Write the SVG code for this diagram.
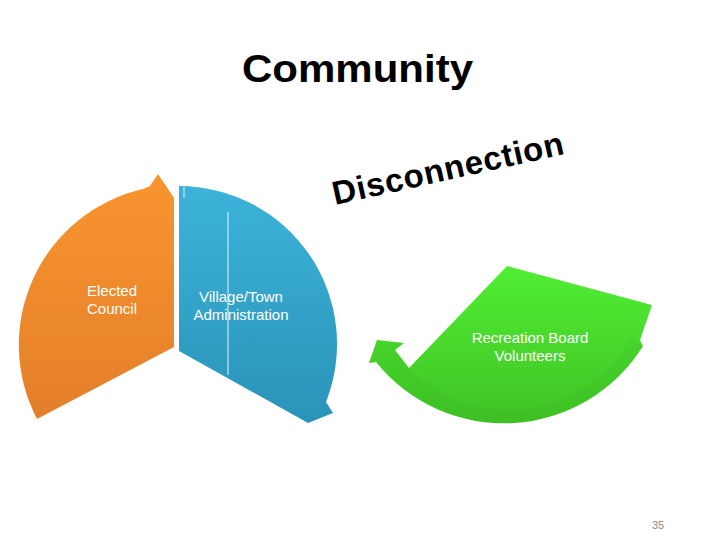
<svg xmlns="http://www.w3.org/2000/svg" width="720" height="540" viewBox="0 0 720 540">
<defs>
<linearGradient id="gOrange" x1="0" y1="174" x2="0" y2="420" gradientUnits="userSpaceOnUse">
<stop offset="0" stop-color="#F8952F"/>
<stop offset="1" stop-color="#E47F2A"/>
</linearGradient>
<linearGradient id="gBlue" x1="0" y1="186" x2="0" y2="423" gradientUnits="userSpaceOnUse">
<stop offset="0" stop-color="#3CB3DA"/>
<stop offset="1" stop-color="#2A93B8"/>
</linearGradient>
<linearGradient id="gGreen" x1="0" y1="266" x2="0" y2="424" gradientUnits="userSpaceOnUse">
<stop offset="0" stop-color="#50EE32"/>
<stop offset="1" stop-color="#40C226"/>
</linearGradient>
<style>
.lbl{font-family:"Liberation Sans",Arial,sans-serif;font-size:15px;fill:#FFFFFF;text-anchor:middle}
.title{font-family:"Liberation Sans",Arial,sans-serif;font-weight:bold;fill:#000000}
</style>
</defs>
<rect width="720" height="540" fill="#FFFFFF"/>
<text class="title" x="242" y="82" font-size="39" textLength="231" lengthAdjust="spacingAndGlyphs">Community</text>
<text class="title" font-size="33" transform="translate(335,205) rotate(-12.5)" textLength="236" lengthAdjust="spacing">Disconnection</text>
<g id="connectors"></g>
<g id="elected-council">
<path d="M174,347 L37,419 A160,160 0 0,1 143,189 L150,186 L158,174 L174,198 Z" fill="url(#gOrange)"/>
<text class="lbl" x="112" y="296">Elected</text>
<text class="lbl" x="112" y="314">Council</text>
</g>
<g id="village-town-administration">
<path d="M179,186 A158,158 0 0,1 326,402 L333,413 L308,423 L179,351 Z" fill="url(#gBlue)"/>
<line x1="184" y1="187" x2="184" y2="198" stroke="#DDF1F8" stroke-width="1"/>
<line x1="228" y1="212" x2="228" y2="375" stroke="#E6F5FA" stroke-width="1"/>
<text class="lbl" x="241" y="302">Village/Town</text>
<text class="lbl" x="241" y="320">Administration</text>
</g>
<g id="recreation-board-volunteers">
<path d="M507,266 L652,305 L640,340 L643,346 A164,164 0 0,1 376,362 L369,363 L377,340 L404,343 L395,350 L409,368 Z" fill="url(#gGreen)"/>
<path d="M632,337 L643,346 A164,164 0 0,1 376,362 L369,363 L377,340 L404,343 L395,350 L409,368 A140,140 0 0,0 632,337 Z" fill="#2E9A12" opacity="0.09"/>
<text class="lbl" x="530" y="343">Recreation Board</text>
<text class="lbl" x="530" y="361">Volunteers</text>
</g>
<text x="658" y="529" font-family="Liberation Sans, Arial, sans-serif" font-size="11" fill="#8A8A8A" text-anchor="middle">35</text>
</svg>
